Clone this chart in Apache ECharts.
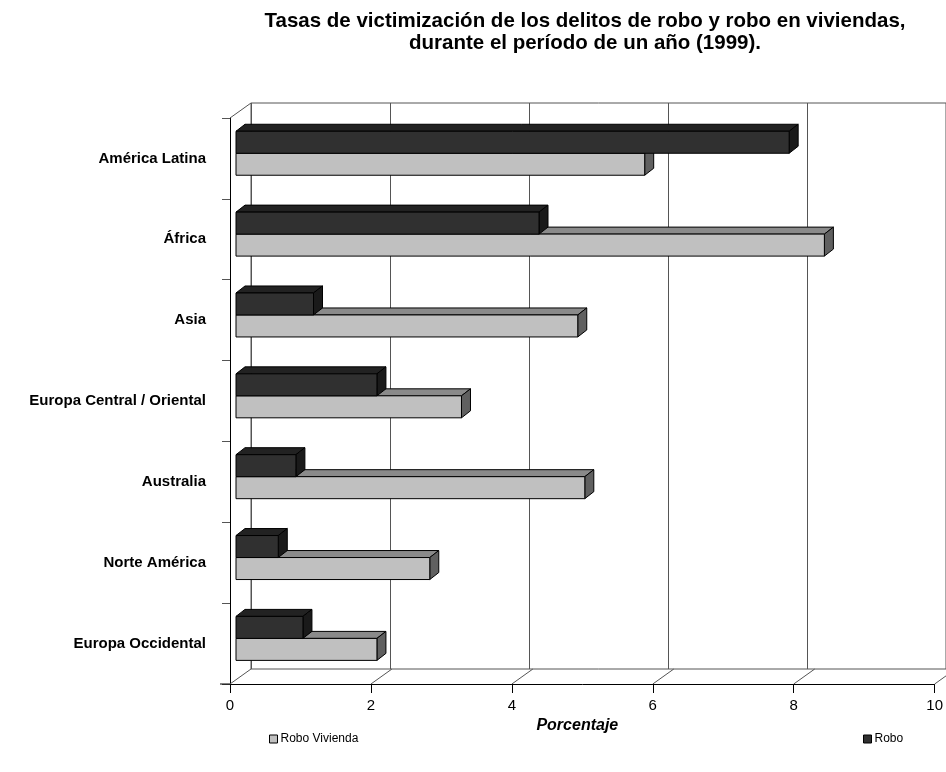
<!DOCTYPE html>
<html><head><meta charset="utf-8">
<script src="https://cdn.jsdelivr.net/npm/echarts@6/dist/echarts.min.js"></script>
<style>html,body{margin:0;padding:0;background:#fff}#c{width:946px;height:772px}</style>
</head><body><div id="c"></div>
<script>
// ---- data ----
const categories = ['América Latina', 'África', 'Asia', 'Europa Central / Oriental', 'Australia', 'Norte América', 'Europa Occidental'];
const roboVivienda = [5.8, 8.35, 4.85, 3.2, 4.95, 2.75, 2.0];
const robo = [7.85, 4.3, 1.1, 2.0, 0.85, 0.6, 0.95];
const xTicks = [0, 2, 4, 6, 8, 10];
const seriesNames = ['Robo Vivienda', 'Robo'];
const titleText = 'Tasas de victimización de los delitos de robo y robo en viviendas,\ndurante el período de un año (1999).';
const axisName = 'Porcentaje';

// ---- 3D look ----
const DX = 21, DY = -15;      // wall depth
const BX = 9, BY = -7;        // bar depth
const FX = 6;                 // bar front plane offset
const LINE = '#555';
const FONT = 'Liberation Sans, Arial, sans-serif';

const chart = echarts.init(document.getElementById('c'), null, {renderer: 'canvas'});

function barItem(kind) {
  return function (params, api) {
    const v = api.value(0), ci = api.value(1);
    const p0 = api.coord([0, ci]), p1 = api.coord([v, ci]);
    const band = api.size([0, 1])[1];
    const yc = p0[1];
    const split = yc - band * 0.064;
    const h = band * 0.272;
    let yt, yb;
    if (kind === 'dark') { yt = split - h; yb = split; }
    else { yt = split; yb = split + h; }
    const x0 = p0[0] + FX, x1 = p1[0] + FX;
    const c = kind === 'dark'
      ? {front: '#303030', top: '#222222', side: '#1a1a1a'}
      : {front: '#c0c0c0', top: '#8a8a8a', side: '#606060'};
    const st = (fill) => ({fill: fill, stroke: '#000', lineWidth: 1});
    return {
      type: 'group',
      children: [
        {type: 'polygon', shape: {points: [[x0, yt], [x1, yt], [x1 + BX, yt + BY], [x0 + BX, yt + BY]]}, style: st(c.top)},
        {type: 'polygon', shape: {points: [[x1, yt], [x1, yb], [x1 + BX, yb + BY], [x1 + BX, yt + BY]]}, style: st(c.side)},
        {type: 'rect', shape: {x: x0, y: yt, width: x1 - x0, height: yb - yt}, style: st(c.front)}
      ]
    };
  };
}

function floorDiag(params, api) {
  const v = api.value(0);
  const last = categories.length - 1;
  const p = api.coord([v, last]);
  const band = api.size([0, 1])[1];
  const yb = p[1] + band / 2;
  const children = [{type: 'line', shape: {x1: p[0], y1: yb, x2: p[0] + DX, y2: yb + DY}, style: {stroke: LINE, lineWidth: 1}}];
  if (params.dataIndex === 0) {
    const pt = api.coord([v, 0]);
    const yt = pt[1] - band / 2;
    children.push({type: 'line', shape: {x1: p[0], y1: yt, x2: p[0] + DX, y2: yt + DY}, style: {stroke: LINE, lineWidth: 1}});
    children.push({type: 'line', shape: {x1: p[0] - 10, y1: yb, x2: p[0], y2: yb}, style: {stroke: '#000', lineWidth: 1}});
  }
  return {type: 'group', children: children};
}

const option = {
  backgroundColor: '#fff',
  animation: false,
  title: {
    text: titleText,
    left: 580, top: 5, textAlign: 'center',
    textStyle: {fontFamily: FONT, fontWeight: 'bold', fontSize: 20.5, lineHeight: 22, color: '#000'}
  },
  legend: [
    {data: [{name: seriesNames[0], itemStyle: {color: '#c0c0c0', borderColor: '#000', borderWidth: 1}}],
      left: 264, top: 728, icon: 'rect', itemWidth: 8, itemHeight: 8, itemGap: 4,
      textStyle: {fontFamily: FONT, fontSize: 12, color: '#000', padding: [0, 0, 0, -2]}},
    {data: [{name: seriesNames[1], itemStyle: {color: '#303030', borderColor: '#000', borderWidth: 1}}],
      left: 858, top: 728, icon: 'rect', itemWidth: 8, itemHeight: 8, itemGap: 4,
      textStyle: {fontFamily: FONT, fontSize: 12, color: '#000', padding: [0, 0, 0, -2]}}
  ],
  grid: [
    {left: 230, right: 10, top: 118, bottom: 88, containLabel: false},
    {left: 230 + DX, right: 10 - DX, top: 118 + DY, bottom: 88 - DY, show: true, borderColor: LINE, borderWidth: 1, backgroundColor: 'transparent', z: 0}
  ],
  xAxis: [
    {gridIndex: 0, type: 'value', min: 0, max: 10, interval: 2,
      axisLine: {show: true, lineStyle: {color: '#000', width: 1}},
      axisTick: {show: true, length: 9, lineStyle: {color: '#000'}},
      splitLine: {show: false},
      axisLabel: {fontFamily: FONT, fontSize: 15, color: '#000', margin: 14},
      name: axisName, nameLocation: 'middle', nameGap: 34,
      nameTextStyle: {fontFamily: FONT, fontWeight: 'bold', fontStyle: 'italic', fontSize: 16, color: '#000', padding: [0, 10, 0, 0]}},
    {gridIndex: 1, type: 'value', min: 0, max: 10, interval: 2,
      axisLine: {show: false}, axisTick: {show: false}, axisLabel: {show: false},
      splitLine: {show: true, lineStyle: {color: LINE, width: 1}}}
  ],
  yAxis: [
    {gridIndex: 0, type: 'category', data: categories, inverse: true,
      axisLine: {show: true, lineStyle: {color: '#000', width: 1}},
      axisTick: {show: true, length: 8, lineStyle: {color: LINE}},
      axisLabel: {fontFamily: FONT, fontWeight: 'bold', fontSize: 15, color: '#000', margin: 24}},
    {gridIndex: 1, type: 'category', data: categories, inverse: true, show: false}
  ],
  series: [
    {type: 'custom', name: 'frame', xAxisIndex: 0, yAxisIndex: 0, silent: true, clip: false, z: 1,
      renderItem: floorDiag, encode: {x: 0, y: 1},
      data: xTicks.map(t => [t, categories.length - 1])},
    {type: 'custom', name: seriesNames[0], xAxisIndex: 0, yAxisIndex: 0, clip: false, z: 3,
      itemStyle: {color: '#c0c0c0'},
      renderItem: barItem('light'), encode: {x: 0, y: 1},
      data: roboVivienda.map((v, i) => [v, i])},
    {type: 'custom', name: seriesNames[1], xAxisIndex: 0, yAxisIndex: 0, clip: false, z: 4,
      itemStyle: {color: '#303030'},
      renderItem: barItem('dark'), encode: {x: 0, y: 1},
      data: robo.map((v, i) => [v, i])}
  ]
};
chart.setOption(option);
</script>
</body></html>
